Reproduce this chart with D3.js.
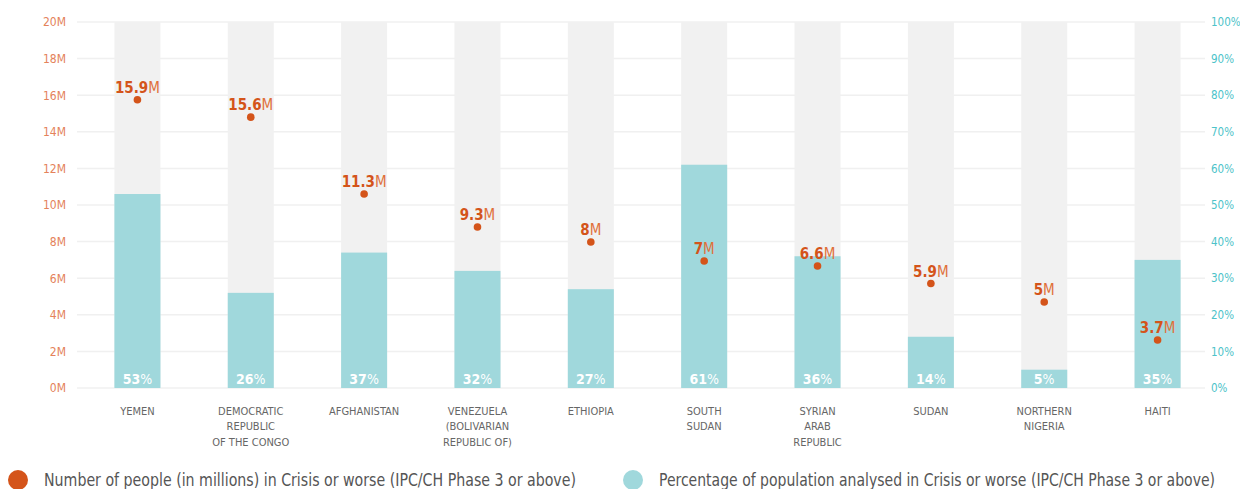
<!DOCTYPE html>
<html>
<head>
<meta charset="utf-8">
<script src="https://cdn.jsdelivr.net/npm/d3@7"></script>
<style>
  body { margin: 0; background: #fff; }
  text { font-family: "DejaVu Sans", sans-serif; font-stretch: condensed; }
</style>
</head>
<body>
<svg id="chart" width="1240" height="489"></svg>
<script>
// countries, one label line per entry
var countries = [
  ["YEMEN"],
  ["DEMOCRATIC", "REPUBLIC", "OF THE CONGO"],
  ["AFGHANISTAN"],
  ["VENEZUELA", "(BOLIVARIAN", "REPUBLIC OF)"],
  ["ETHIOPIA"],
  ["SOUTH", "SUDAN"],
  ["SYRIAN", "ARAB", "REPUBLIC"],
  ["SUDAN"],
  ["NORTHERN", "NIGERIA"],
  ["HAITI"]
];
// number of people in crisis (millions) - as labelled
var people = [15.9, 15.6, 11.3, 9.3, 8, 7, 6.6, 5.9, 5, 3.7];
// where the dot sits on the left axis in the source (millions)
var dotAt = [15.75, 14.8, 10.6, 8.8, 7.98, 6.94, 6.67, 5.71, 4.7, 2.62];
// percent of population analysed in crisis
var percent = [53, 26, 37, 32, 27, 61, 36, 14, 5, 35];

var leftTicks = [0, 2, 4, 6, 8, 10, 12, 14, 16, 18, 20];
var rightTicks = [0, 10, 20, 30, 40, 50, 60, 70, 80, 90, 100];

var orange = "#d4541a";
var teal = "#a0d8dc";

var svg = d3.select("#chart");

var x = d3.scaleBand()
          .domain(d3.range(countries.length))
          .range([77, 1218])
          .paddingInner(0.594)
          .paddingOuter(0.33);
var yL = d3.scaleLinear().domain([0, 20]).range([388, 22]);
var yR = d3.scaleLinear().domain([0, 100]).range([388, 22]);

// gridlines
svg.append("g").selectAll("line")
   .data(leftTicks)
   .enter().append("line")
   .attr("x1", 77).attr("x2", 1205)
   .attr("y1", d => yL(d)).attr("y2", d => yL(d))
   .attr("stroke", "#f0f0f0").attr("stroke-width", 1.5);

// left axis
var axL = svg.append("g").attr("transform", "translate(77,0)")
             .call(d3.axisLeft(yL).tickValues(leftTicks).tickSize(0).tickPadding(11).tickFormat(d => d + "M"));
axL.select(".domain").remove();
axL.selectAll("text").attr("fill", "#e4825a").attr("font-size", 12).attr("font-family", null);

// right axis
var axR = svg.append("g").attr("transform", "translate(1205,0)")
             .call(d3.axisRight(yR).tickValues(rightTicks).tickSize(0).tickPadding(6).tickFormat(d => d + "%"));
axR.select(".domain").remove();
axR.selectAll("text").attr("fill", "#4cc3c9").attr("font-size", 11.5).attr("font-family", null);

var idx = d3.range(countries.length);

// background bars
svg.append("g").selectAll("rect")
   .data(idx)
   .enter().append("rect")
   .attr("x", i => x(i))
   .attr("width", x.bandwidth())
   .attr("y", yR(100))
   .attr("height", yR(0) - yR(100))
   .attr("fill", "#f1f1f1");

// percent bars
svg.append("g").selectAll("rect")
   .data(idx)
   .enter().append("rect")
   .attr("x", i => x(i))
   .attr("width", x.bandwidth())
   .attr("y", i => yR(percent[i]))
   .attr("height", i => yR(0) - yR(percent[i]))
   .attr("fill", teal);

// percent labels
var pl = svg.append("g").selectAll("text")
   .data(idx)
   .enter().append("text")
   .attr("x", i => x(i) + x.bandwidth() / 2)
   .attr("y", 384)
   .attr("text-anchor", "middle")
   .attr("fill", "#fff")
   .attr("font-size", 14);
pl.append("tspan").attr("font-weight", "bold").text(i => percent[i]);
pl.append("tspan").text("%");

// dots
svg.append("g").selectAll("circle")
   .data(idx)
   .enter().append("circle")
   .attr("cx", i => x(i) + x.bandwidth() / 2)
   .attr("cy", i => yL(dotAt[i]))
   .attr("r", 3.8)
   .attr("fill", orange);

// people labels
var nl = svg.append("g").selectAll("text")
   .data(idx)
   .enter().append("text")
   .attr("x", i => x(i) + x.bandwidth() / 2)
   .attr("y", i => yL(dotAt[i]) - 7)
   .attr("text-anchor", "middle")
   .attr("fill", orange)
   .attr("font-size", 15);
nl.append("tspan").attr("font-weight", "bold").text(i => people[i]);
nl.append("tspan").attr("fill", "#e0703a").text("M");

// country labels
var cl = svg.append("g").selectAll("text")
   .data(idx)
   .enter().append("text")
   .attr("text-anchor", "middle")
   .attr("fill", "#666")
   .attr("font-size", 11);
cl.each(function(i) {
  var t = d3.select(this);
  countries[i].forEach((line, j) => {
    t.append("tspan")
     .attr("x", x(i) + x.bandwidth() / 2)
     .attr("y", 415 + j * 15.3)
     .text(line);
  });
});

// legend
var legend = [
  {label: "Number of people (in millions) in Crisis or worse (IPC/CH Phase 3 or above)", color: orange, x: 18, w: 532},
  {label: "Percentage of population analysed in Crisis or worse (IPC/CH Phase 3 or above)", color: teal, x: 633, w: 556}
];
var lg = svg.append("g").selectAll("g")
   .data(legend)
   .enter().append("g");
lg.append("circle")
  .attr("cx", d => d.x).attr("cy", 480).attr("r", 10)
  .attr("fill", d => d.color);
lg.append("text")
  .attr("x", d => d.x + 26).attr("y", 486)
  .attr("fill", "#555")
  .attr("font-size", 17)
  .attr("textLength", d => d.w)
  .attr("lengthAdjust", "spacingAndGlyphs")
  .text(d => d.label);
</script>
</body>
</html>
